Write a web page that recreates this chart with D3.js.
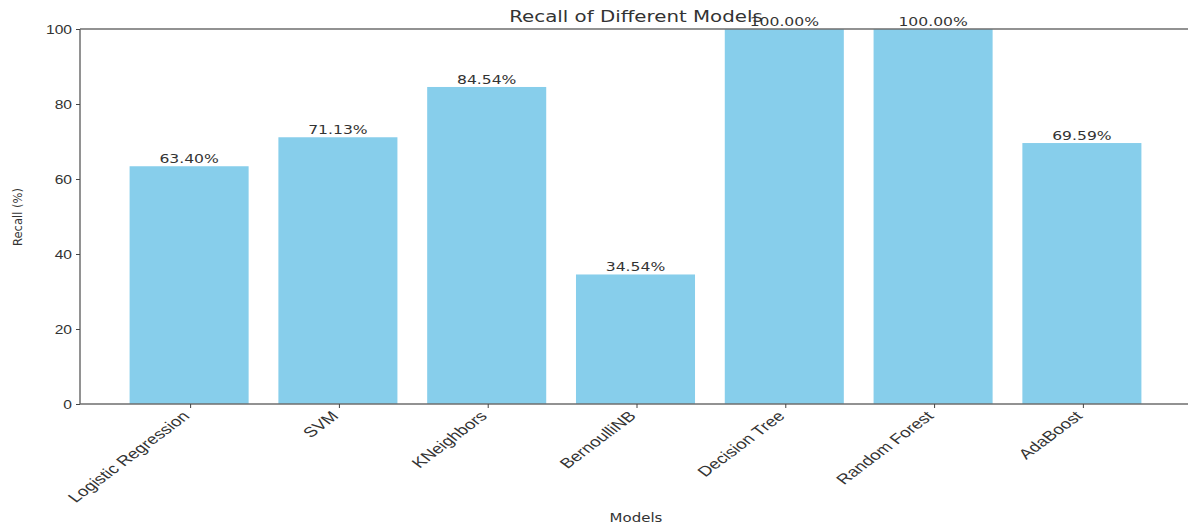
<!DOCTYPE html>
<html>
<head>
<meta charset="utf-8">
<script src="https://cdn.jsdelivr.net/npm/d3@7"></script>
<style>
  html, body { margin: 0; padding: 0; background: #fff; }
  svg { display: block; font-family: "DejaVu Sans", sans-serif; }
</style>
</head>
<body>
<svg id="chart" width="1188" height="529"></svg>
<script>
// Recall per model (%)
const models = ["Logistic Regression", "SVM", "KNeighbors", "BernoulliNB", "Decision Tree", "Random Forest", "AdaBoost"];
const recall = [63.40, 71.13, 84.54, 34.54, 100.00, 100.00, 69.59];
const yTicks = [0, 20, 40, 60, 80, 100];

const svg = d3.select("#chart");
const plotLeft = 80, plotRight = 1193, plotTop = 29, plotBottom = 404;
const sx = 1.2; // horizontal stretch of text

const x = d3.scaleLinear().domain([-0.74, models.length - 1 + 0.74]).range([plotLeft, plotRight]);
const y = d3.scaleLinear().domain([0, 100]).range([plotBottom, plotTop]);
const barW = x(0.8) - x(0);

// bars
svg.append("g").selectAll("rect")
  .data(recall)
  .join("rect")
  .attr("x", (d, i) => x(i) - barW / 2 - 1)
  .attr("y", d => y(d))
  .attr("width", barW)
  .attr("height", d => y(0) - y(d))
  .attr("fill", "#87CEEB");

// spines
const spine = "#6e6e6e";
svg.append("line").attr("x1", plotLeft).attr("x2", plotLeft).attr("y1", plotTop).attr("y2", plotBottom)
  .attr("stroke", spine).attr("stroke-width", 1.5);
svg.append("line").attr("x1", plotLeft).attr("x2", plotRight).attr("y1", plotBottom).attr("y2", plotBottom)
  .attr("stroke", spine).attr("stroke-width", 1.5);
svg.append("line").attr("x1", plotLeft).attr("x2", plotRight).attr("y1", plotTop).attr("y2", plotTop)
  .attr("stroke", spine).attr("stroke-width", 1.5);

// y axis
const yAxis = svg.append("g").attr("transform", `translate(${plotLeft},0)`)
  .call(d3.axisLeft(y).tickValues(yTicks).tickSize(4).tickPadding(0).tickFormat(d3.format("d")));
yAxis.select(".domain").remove();
yAxis.selectAll(".tick line").attr("stroke", "#444");
yAxis.selectAll(".tick text").remove();
yAxis.selectAll(".tick").append("text")
  .attr("transform", `translate(-8,0) scale(${sx},1)`)
  .attr("text-anchor", "end").attr("dy", "0.35em")
  .attr("font-size", 13).attr("fill", "#333")
  .text(d => d);

// x axis, rotated category labels
const xAxis = svg.append("g").attr("transform", `translate(0,${plotBottom})`)
  .call(d3.axisBottom(x).tickValues(d3.range(models.length)).tickSize(4).tickFormat(i => models[i]));
xAxis.select(".domain").remove();
xAxis.selectAll(".tick line").attr("stroke", "#444");
xAxis.selectAll(".tick text")
  .attr("font-size", 14).attr("fill", "#333")
  .attr("text-anchor", "end")
  .attr("y", 0).attr("dy", 0)
  .attr("transform", "translate(0,13) scale(1.33,1) rotate(-45)");

// value labels
svg.append("g").selectAll("text")
  .data(recall)
  .join("text")
  .attr("transform", (d, i) => `translate(${x(i) - 1},${y(d) - 3}) scale(${sx},1)`)
  .attr("text-anchor", "middle")
  .attr("font-size", 13).attr("fill", "#333")
  .text(d => d.toFixed(2) + "%");

// title
svg.append("text")
  .attr("transform", `translate(636,22) scale(${sx},1)`)
  .attr("text-anchor", "middle").attr("font-size", 16.5).attr("fill", "#333")
  .text("Recall of Different Models");

// axis labels
svg.append("text")
  .attr("transform", `translate(636,522) scale(${sx},1)`)
  .attr("text-anchor", "middle").attr("font-size", 12.5).attr("fill", "#333")
  .text("Models");
svg.append("text")
  .attr("transform", "translate(22,217) rotate(-90)")
  .attr("text-anchor", "middle").attr("font-size", 11.5).attr("fill", "#333")
  .text("Recall (%)");
</script>
</body>
</html>
